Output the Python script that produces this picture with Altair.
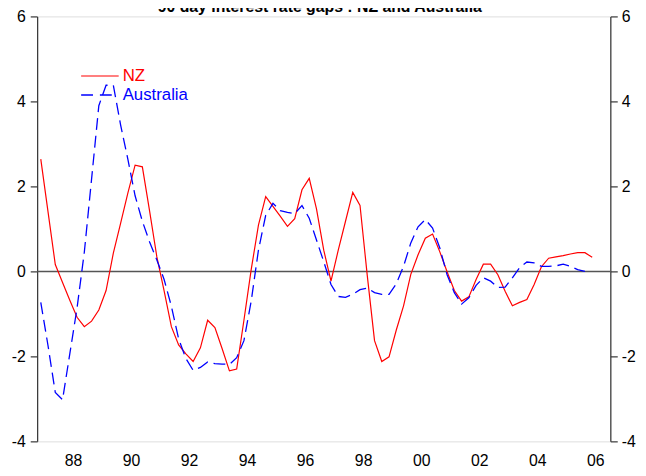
import altair as alt
import numpy as np
import pandas as pd

TITLE = "90 day interest rate gaps : NZ and Australia"

# quarterly data, first observation 1987 Q2 (plotted at mid-quarter)
START_YEAR = 1987
START_QUARTER = 2

nz = [2.64, 1.40, 0.16, -0.26, -0.68, -1.08, -1.30, -1.17, -0.91, -0.45,
      0.43, 1.13, 1.84, 2.50, 2.46, 1.42, 0.34, -0.46, -1.30, -1.73,
      -1.94, -2.12, -1.80, -1.15, -1.32, -1.82, -2.34, -2.30, -1.15, 0.04,
      1.09, 1.76, 1.53, 1.30, 1.06, 1.24, 1.92, 2.19, 1.47, 0.50,
      -0.23, 0.50, 1.18, 1.86, 1.55, -0.10, -1.63, -2.12, -2.01, -1.38,
      -0.81, -0.07, 0.39, 0.78, 0.88, 0.46, -0.01, -0.45, -0.70, -0.60,
      -0.19, 0.17, 0.17, -0.08, -0.47, -0.81, -0.73, -0.66, -0.31, 0.11,
      0.31, 0.34, 0.37, 0.41, 0.44, 0.44, 0.33]

australia = [-0.73, -1.75, -2.85, -3.02, -1.94, -0.86, 0.45, 2.17, 3.90, 4.38,
             4.38, 3.45, 2.64, 1.78, 1.18, 0.69, 0.27, -0.19, -0.82, -1.59,
             -2.05, -2.33, -2.26, -2.13, -2.17, -2.18, -2.19, -2.03, -1.63, -0.70,
             0.50, 1.32, 1.60, 1.43, 1.39, 1.36, 1.55, 1.25, 0.74, 0.23,
             -0.31, -0.59, -0.61, -0.54, -0.43, -0.39, -0.50, -0.54, -0.54, -0.29,
             0.12, 0.67, 1.05, 1.22, 1.02, 0.55, -0.08, -0.50, -0.77, -0.62,
             -0.33, -0.15, -0.23, -0.38, -0.37, -0.15, 0.09, 0.22, 0.20, 0.12,
             0.12, 0.13, 0.17, 0.12, 0.04, 0.00]

year_labels = ["88", "90", "92", "94", "96", "98", "00", "02", "04", "06"]
year_label_pos = [1988.5, 1990.5, 1992.5, 1994.5, 1996.5, 1998.5, 2000.5, 2002.5, 2004.5, 2006.5]
year_ticks = list(range(1988, 2007))
y_ticks = [-4, -2, 0, 2, 4, 6]
legend_names = ["NZ", "Australia"]

def qtime(n):
    start = START_YEAR + (START_QUARTER - 1) / 4 + 0.125
    return start + 0.25 * np.arange(n)

df_nz = pd.DataFrame({"t": qtime(len(nz)), "v": nz})
df_au = pd.DataFrame({"t": qtime(len(australia)), "v": australia})
df_lab = pd.DataFrame({"t": year_label_pos, "lab": year_labels})

W, H = 580, 430
FONT = "Liberation Sans"
LABEL_EXPR = "datum.value < 0 ? '-' + abs(datum.value) : '' + datum.value"

xs = alt.Scale(domain=[1987.25, 2007.0], nice=False, zero=False)
ys = alt.Scale(domain=[-4, 6], nice=False, zero=False)

xaxis = alt.Axis(values=year_ticks, labels=False, tickSize=10, title=None, grid=False,
                 domainColor="#333333", tickColor="#333333", domainWidth=1.2, tickWidth=1.2)
yleft = alt.Axis(values=y_ticks, orient="left", tickSize=7, labelPadding=5, title=None, grid=False,
                 labelFontSize=16, labelFont=FONT, labelColor="black", labelExpr=LABEL_EXPR,
                 domainColor="#333333", tickColor="#333333", domainWidth=1.2, tickWidth=1.2)
yright = alt.Axis(values=y_ticks, orient="right", tickSize=7, labelPadding=4, title=None, grid=False,
                  labelFontSize=16, labelFont=FONT, labelColor="black", labelExpr=LABEL_EXPR,
                  domainColor="#333333", tickColor="#333333", domainWidth=1.2, tickWidth=1.2)

zero = alt.Chart(pd.DataFrame({"y": [0]})).mark_rule(color="#555555", strokeWidth=1.5).encode(
    y=alt.Y("y:Q", scale=ys, axis=None))

nz_line = alt.Chart(df_nz).mark_line(color="#ff0000", strokeWidth=1.2).encode(
    x=alt.X("t:Q", scale=xs, axis=xaxis),
    y=alt.Y("v:Q", scale=ys, axis=yleft))

au_line = alt.Chart(df_au).mark_line(color="#0000ff", strokeWidth=1.3, strokeDash=[12, 6]).encode(
    x=alt.X("t:Q", scale=xs, axis=None),
    y=alt.Y("v:Q", scale=ys, axis=yright))

xlabels = alt.Chart(df_lab).mark_text(fontSize=16, font=FONT, color="black", baseline="middle").encode(
    x=alt.X("t:Q", scale=xs, axis=None),
    y=alt.value(H + 20),
    text="lab:N")

one = pd.DataFrame({"a": [0]})
leg_nz = alt.Chart(one).mark_rule(color="#ff0000", strokeWidth=1.2).encode(
    x=alt.value(44.5), x2=alt.value(82.5), y=alt.value(60.3))
leg_au = alt.Chart(one).mark_rule(color="#0000ff", strokeWidth=1.3, strokeDash=[12, 7]).encode(
    x=alt.value(44.5), x2=alt.value(82.5), y=alt.value(79.5))
leg_nz_t = alt.Chart(one).mark_text(text=legend_names[0], color="#ff0000", fontSize=17, font=FONT,
                                    align="left", baseline="middle").encode(
    x=alt.value(86.5), y=alt.value(60.3))
leg_au_t = alt.Chart(one).mark_text(text=legend_names[1], color="#0000ff", fontSize=17, font=FONT,
                                    align="left", baseline="middle").encode(
    x=alt.value(86.5), y=alt.value(79.5))

title = alt.Chart(one).mark_text(text=TITLE, fontSize=16, fontWeight="bold", font=FONT, color="black",
                                 align="center", baseline="alphabetic").encode(
    x=alt.value(286), y=alt.value(-4.5))

chart = alt.layer(zero, nz_line, au_line, xlabels, leg_nz, leg_au, leg_nz_t, leg_au_t, title).resolve_axis(
    y="independent").properties(
    width=W, height=H,
    autosize=alt.AutoSizeParams(type="none"),
    padding={"left": 29.5, "top": 5.7, "right": 28, "bottom": 40},
).configure_view(stroke=None).configure(font=FONT)

chart.save("out.html", embed_options={"renderer": "svg", "actions": False})
